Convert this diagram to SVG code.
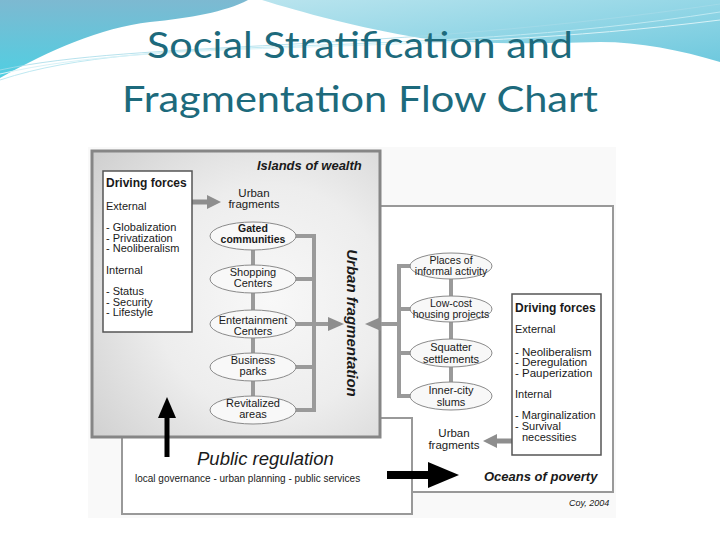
<svg xmlns="http://www.w3.org/2000/svg" width="720" height="540" viewBox="0 0 720 540">
<defs>
<linearGradient id="wl" x1="0" y1="0" x2="0" y2="1">
<stop offset="0" stop-color="#7db9d1"/><stop offset="1" stop-color="#50cfe2"/>
</linearGradient>
<linearGradient id="wr" x1="0" y1="0" x2="1" y2="1">
<stop offset="0" stop-color="#b9e4ee"/><stop offset="1" stop-color="#6fc9de"/>
</linearGradient>
<radialGradient id="gbox" cx="0.62" cy="0.52" r="0.8">
<stop offset="0" stop-color="#f8f8f8"/><stop offset="0.5" stop-color="#ededed"/><stop offset="1" stop-color="#cfcfcf"/>
</radialGradient>
<style>
.t{font-family:"Liberation Sans",Arial,sans-serif;fill:#1a1a1a}
.title{font-family:Lato,"Open Sans",sans-serif;font-size:36px;fill:#1d6a7c}
.s11{font-size:11px}
.s12{font-size:12px}
.b{font-weight:bold}
.i{font-style:italic}
.m{text-anchor:middle}
.ell{fill:#f8f8f8;stroke:#8a8a8a;stroke-width:1}
.con{fill:none;stroke:#9a9a9a;stroke-width:4}
.ga{fill:#8e8e8e}
.ka{fill:#000}
.box{fill:#fff;stroke:#555;stroke-width:1.5}
.thin{fill:#fff;stroke:#999;stroke-width:2}
</style>
</defs>
<rect width="720" height="540" fill="#fff"/>
<g id="background">
<path d="M0,0 H248 C225,12 190,18 150,22 C100,28 50,50 0,78 Z" fill="url(#wl)"/>
<path d="M262,0 H720 V62 C680,50 640,42 600,42 C520,44 470,44 420,38 C360,28 300,12 262,0 Z" fill="url(#wr)"/>
<path d="M0,80 C150,30 400,62 720,12" fill="none" stroke="#bfe9f2" stroke-width="1"/>
<path d="M0,74 C160,36 420,58 720,20" fill="none" stroke="#d8f2f7" stroke-width="1"/>
<path d="M0,70 C140,40 380,54 720,4" fill="none" stroke="#a5dbe8" stroke-width="0.8"/>
</g>
<g id="title">
<text class="title" x="147" y="58" textLength="426" lengthAdjust="spacingAndGlyphs">Social Stratification and</text>
<text class="title" x="122" y="112" textLength="476" lengthAdjust="spacingAndGlyphs">Fragmentation Flow Chart</text>
</g>
<rect x="88" y="147" width="528" height="371" fill="#f9f9f9"/>
<g id="oceans-of-poverty">
<rect class="thin" x="370" y="206" width="243" height="286"/>
<text class="t b i" x="484" y="481" style="font-size:13px">Oceans of poverty</text>
</g>
<g id="public-regulation">
<rect class="thin" x="122" y="418" width="290" height="96"/>
<text class="t i" x="197" y="465" style="font-size:18.5px">Public regulation</text>
<text class="t" x="135" y="482" style="font-size:10px">local governance - urban planning - public services</text>
</g>
<g id="islands-of-wealth">
<rect x="92" y="151" width="288" height="286" fill="url(#gbox)" stroke="#868686" stroke-width="3"/>
<text class="t b i" x="257" y="170" style="font-size:13px">Islands of wealth</text>
</g>
<g id="connectors">
<path class="con" d="M253,236 V410"/>
<path class="con" d="M296,236 H314 V410 H296 M296,279 H314 M296,367 H314 M296,324 H330"/>
<polygon class="ga" points="328,317 344,324 328,331"/>
<path class="con" d="M451,266 V396"/>
<path class="con" d="M411,266 H399 V396 H411 M399,309 H411 M399,353 H411 M399,324 H380"/>
<polygon class="ga" points="381,317 365,324 381,331"/>
<rect class="ga" x="192" y="199.5" width="16" height="5"/>
<polygon class="ga" points="207,195 221,202 207,209"/>
<rect class="ga" x="496" y="438.5" width="16" height="5"/>
<polygon class="ga" points="497,434 483,441 497,448"/>
<rect class="ka" x="387" y="471" width="42" height="8"/>
<polygon class="ka" points="428,462 459,475 428,488"/>
<rect class="ka" x="164.5" y="416" width="5" height="41"/>
<polygon class="ka" points="158,418 167,397 176,418"/>
</g>
<g id="driving-forces-wealth">
<rect class="box" x="103" y="171" width="89" height="161"/>
<text class="t s12 b" x="106" y="187">Driving forces</text>
<text class="t s11" x="106" y="210">External</text>
<text class="t s11" x="106" y="231">- Globalization</text>
<text class="t s11" x="106" y="242">- Privatization</text>
<text class="t s11" x="106" y="252">- Neoliberalism</text>
<text class="t s11" x="106" y="274">Internal</text>
<text class="t s11" x="106" y="295">- Status</text>
<text class="t s11" x="106" y="306">- Security</text>
<text class="t s11" x="106" y="316">- Lifestyle</text>
</g>
<g id="urban-fragments-wealth">
<text class="t m" x="254" y="197" style="font-size:11.5px">Urban</text>
<text class="t m" x="254" y="208" style="font-size:11.5px">fragments</text>
</g>
<g id="gated-communities">
<ellipse class="ell" cx="253" cy="236" rx="43" ry="14"/>
<text class="t m b" x="253" y="232" style="font-size:10.5px">Gated</text>
<text class="t m b" x="253" y="243" style="font-size:10.5px">communities</text>
</g>
<g id="shopping-centers">
<ellipse class="ell" cx="253" cy="279" rx="43" ry="14"/>
<text class="t m s11" x="253" y="276">Shopping</text>
<text class="t m s11" x="253" y="287">Centers</text>
</g>
<g id="entertainment-centers">
<ellipse class="ell" cx="253" cy="324" rx="43" ry="14"/>
<text class="t m s11" x="253" y="324">Entertainment</text>
<text class="t m s11" x="253" y="335">Centers</text>
</g>
<g id="business-parks">
<ellipse class="ell" cx="253" cy="367" rx="43" ry="14"/>
<text class="t m s11" x="253" y="364">Business</text>
<text class="t m s11" x="253" y="375">parks</text>
</g>
<g id="revitalized-areas">
<ellipse class="ell" cx="253" cy="410" rx="43" ry="14"/>
<text class="t m s11" x="253" y="407">Revitalized</text>
<text class="t m s11" x="253" y="418">areas</text>
</g>
<g id="urban-fragmentation">
<text class="t m b i" transform="translate(347,323) rotate(90)" style="font-size:15px">Urban fragmentation</text>
</g>
<g id="places-informal">
<ellipse class="ell" cx="451" cy="266" rx="41" ry="13"/>
<text class="t m" x="451" y="264" style="font-size:10.5px">Places of</text>
<text class="t m" x="451" y="275" style="font-size:10.5px">informal activity</text>
</g>
<g id="low-cost-housing">
<ellipse class="ell" cx="451" cy="309" rx="41" ry="13"/>
<text class="t m" x="451" y="307" style="font-size:10.5px">Low-cost</text>
<text class="t m" x="451" y="318" style="font-size:10.5px">housing projects</text>
</g>
<g id="squatter-settlements">
<ellipse class="ell" cx="451" cy="353" rx="41" ry="14"/>
<text class="t m s11" x="451" y="351">Squatter</text>
<text class="t m s11" x="451" y="363">settlements</text>
</g>
<g id="inner-city-slums">
<ellipse class="ell" cx="451" cy="396" rx="41" ry="14"/>
<text class="t m s11" x="451" y="394">Inner-city</text>
<text class="t m s11" x="451" y="406">slums</text>
</g>
<g id="driving-forces-poverty">
<rect class="box" x="512" y="294" width="89" height="161"/>
<text class="t s12 b" x="515" y="312">Driving forces</text>
<text class="t s11" x="515" y="333">External</text>
<text class="t" x="515" y="356" style="font-size:11.5px">- Neoliberalism</text>
<text class="t" x="515" y="366" style="font-size:11.5px">- Deregulation</text>
<text class="t" x="515" y="377" style="font-size:11.5px">- Pauperization</text>
<text class="t s11" x="515" y="398">Internal</text>
<text class="t s11" x="515" y="419">- Marginalization</text>
<text class="t s11" x="515" y="430">- Survival</text>
<text class="t s11" x="522" y="441">necessities</text>
</g>
<g id="urban-fragments-poverty">
<text class="t m" x="454" y="437" style="font-size:11.5px">Urban</text>
<text class="t m" x="454" y="449" style="font-size:11.5px">fragments</text>
</g>
<text class="t i" x="569" y="506" style="font-size:9px">Coy, 2004</text>
</svg>
